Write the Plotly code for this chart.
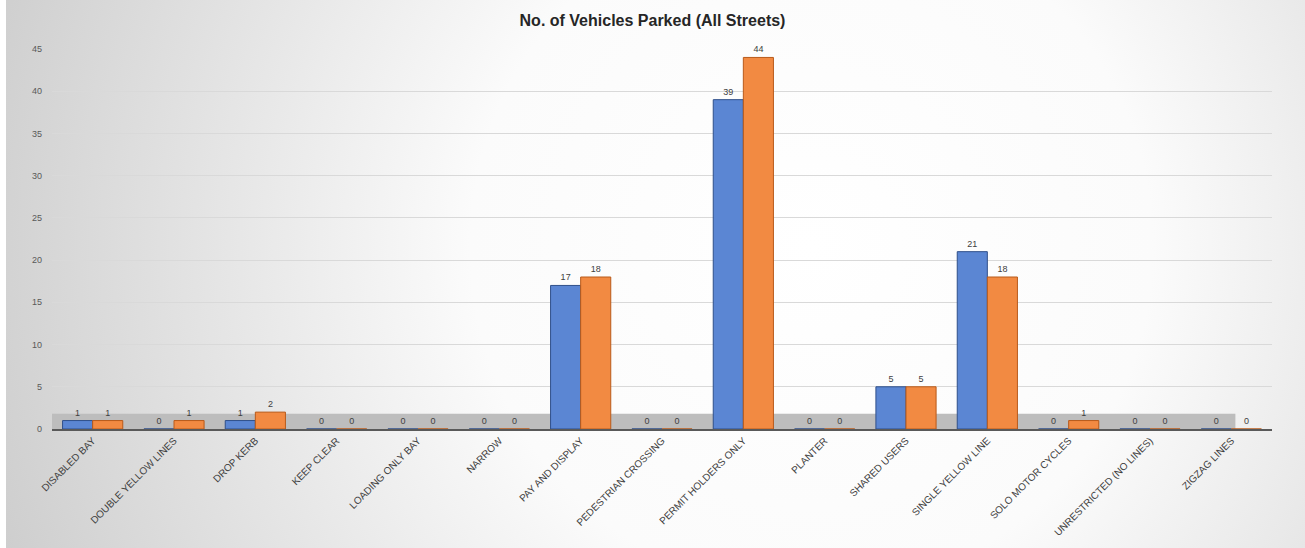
import plotly.graph_objects as go
import urllib.parse

categories = [
    "DISABLED BAY", "DOUBLE YELLOW LINES", "DROP KERB", "KEEP CLEAR",
    "LOADING ONLY BAY", "NARROW", "PAY AND DISPLAY", "PEDESTRIAN CROSSING",
    "PERMIT HOLDERS ONLY", "PLANTER", "SHARED USERS", "SINGLE YELLOW LINE",
    "SOLO MOTOR CYCLES", "UNRESTRICTED (NO LINES)", "ZIGZAG LINES",
]
series_a = [1, 0, 1, 0, 0, 0, 17, 0, 39, 0, 5, 21, 0, 0, 0]
series_b = [1, 1, 2, 0, 0, 0, 18, 0, 44, 0, 5, 18, 1, 0, 0]
y_ticks = [0, 5, 10, 15, 20, 25, 30, 35, 40, 45]

# soft radial grey-to-white backdrop
svg = (
    '<svg xmlns="http://www.w3.org/2000/svg" width="1305" height="548" '
    'preserveAspectRatio="none" viewBox="0 0 1305 548">'
    '<defs><radialGradient id="g" cx="0.62" cy="0.45" r="0.75" '
    'gradientTransform="translate(0.62 0.45) scale(1 2.4) translate(-0.62 -0.45)">'
    '<stop offset="0" stop-color="#ffffff"/>'
    '<stop offset="0.35" stop-color="#fbfbfb"/>'
    '<stop offset="1" stop-color="#c4c4c4"/>'
    '</radialGradient></defs>'
    '<rect width="1305" height="548" fill="#ffffff"/>'
    '<rect x="6" y="0" width="1299" height="548" fill="url(#g)"/>'
    '</svg>'
)
bg_uri = "data:image/svg+xml;charset=utf-8," + urllib.parse.quote(svg)

label_font = dict(family="Liberation Sans, Arial, sans-serif", size=9, color="#404040")

fig = go.Figure()
fig.add_trace(go.Bar(
    x=categories, y=series_a, name="Series 1",
    marker=dict(color="#5B86D3", line=dict(color="#2F4F8A", width=1)),
    text=[str(v) for v in series_a], textposition="outside",
    textfont=label_font, cliponaxis=False,
))
fig.add_trace(go.Bar(
    x=categories, y=series_b, name="Series 2",
    marker=dict(color="#F28A42", line=dict(color="#B85A1A", width=1)),
    text=[str(v) for v in series_b], textposition="outside",
    textfont=label_font, cliponaxis=False,
))

fig.update_layout(
    width=1305, height=548,
    margin=dict(l=52, r=33, t=49, b=119),
    paper_bgcolor="rgba(0,0,0,0)",
    plot_bgcolor="rgba(0,0,0,0)",
    showlegend=False,
    barmode="group", bargap=0.26, bargroupgap=0.0,
    title=dict(
        text="<b>No. of Vehicles Parked (All Streets)</b>",
        x=0.5, xanchor="center", y=0.962, yanchor="middle",
        font=dict(family="Liberation Sans, Arial, sans-serif", size=16, color="#262626"),
    ),
    images=[dict(
        source=bg_uri, xref="paper", yref="paper",
        x=-52 / 1220, y=1 + 49 / 380, sizex=1305 / 1220, sizey=548 / 380,
        xanchor="left", yanchor="top", sizing="stretch", layer="below",
    )],
    shapes=[dict(
        type="rect", xref="paper", yref="paper",
        x0=0.0, x1=0.97, y0=0.0, y1=0.04,
        fillcolor="#bdbdbd", line=dict(width=0), layer="below",
    )],
)
fig.update_xaxes(
    tickangle=-45, automargin=False,
    tickfont=dict(family="Liberation Sans, Arial, sans-serif", size=10, color="#404040"),
    showline=True, linecolor="#595959", linewidth=2,
    showgrid=False, ticks="",
)
fig.update_yaxes(
    range=[0, 45], tickvals=y_ticks, automargin=False,
    tickfont=dict(family="Liberation Sans, Arial, sans-serif", size=9, color="#595959"),
    showgrid=True, gridcolor="#d9d9d9", gridwidth=1,
    zeroline=False, showline=False, ticks="", ticklabelstandoff=9,
)

fig.write_html("out.html")
